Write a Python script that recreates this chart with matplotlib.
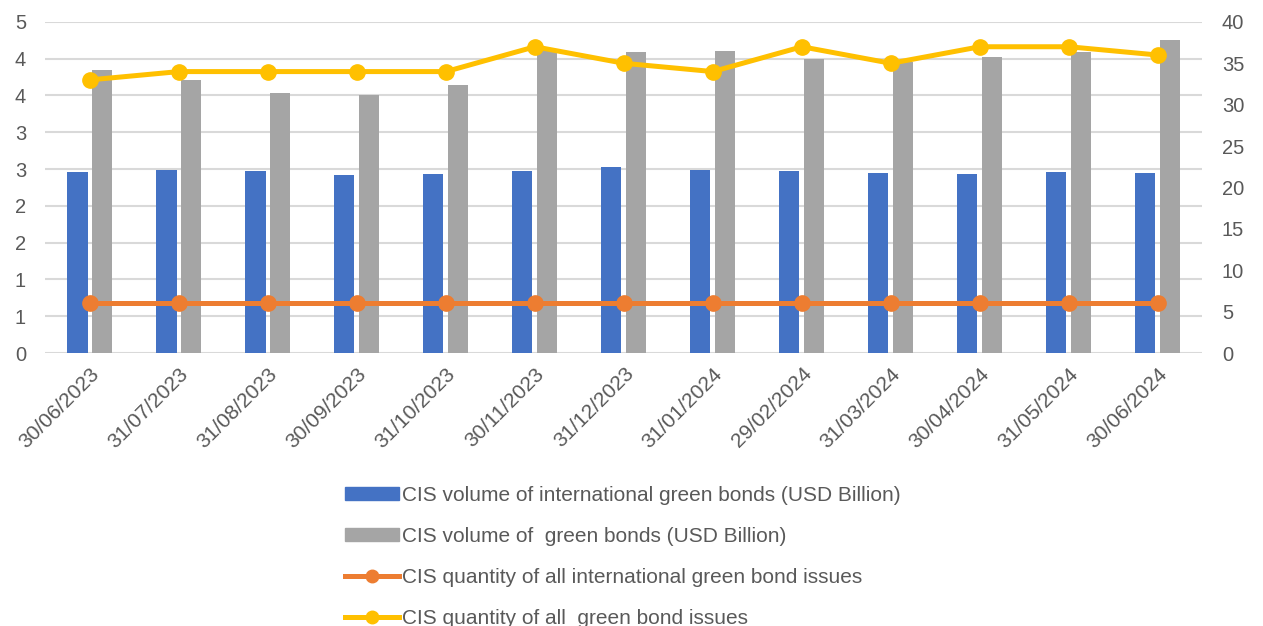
import numpy as np
import matplotlib
matplotlib.use("Agg")
import matplotlib.pyplot as plt
from matplotlib.lines import Line2D
from matplotlib.patches import Patch

plt.rcParams['font.family'] = ['Liberation Sans', 'DejaVu Sans']

# data
dates = ["30/06/2023", "31/07/2023", "31/08/2023", "30/09/2023", "31/10/2023",
         "30/11/2023", "31/12/2023", "31/01/2024", "29/02/2024", "31/03/2024",
         "30/04/2024", "31/05/2024", "30/06/2024"]
intl_volume = [2.46, 2.49, 2.47, 2.42, 2.43, 2.48, 2.53, 2.49, 2.47, 2.45, 2.43, 2.46, 2.45]
all_volume = [3.84, 3.71, 3.53, 3.50, 3.64, 4.12, 4.09, 4.11, 4.00, 3.96, 4.02, 4.09, 4.26]
intl_count = [6, 6, 6, 6, 6, 6, 6, 6, 6, 6, 6, 6, 6]
all_count = [33, 34, 34, 34, 34, 37, 35, 34, 37, 35, 37, 37, 36]

left_ticks = [0, 0.5, 1, 1.5, 2, 2.5, 3, 3.5, 4, 4.5]
left_tick_labels = ["0", "1", "1", "2", "2", "3", "3", "4", "4", "5"]
right_ticks = [0, 5, 10, 15, 20, 25, 30, 35, 40]

labels = ["CIS volume of international green bonds (USD Billion)",
          "CIS volume of  green bonds (USD Billion)",
          "CIS quantity of all international green bond issues",
          "CIS quantity of all  green bond issues"]

blue = "#4472C4"
grey = "#A5A5A5"
orange = "#ED7D31"
yellow = "#FFC000"
text_col = "#595959"

fig = plt.figure(figsize=(12.63, 6.26), dpi=100)
ax = fig.add_axes([0.036, 0.436, 0.916, 0.529])
ax2 = ax.twinx()

x = np.arange(len(dates))
w = 0.225
ax.bar(x - 0.14, intl_volume, width=w, color=blue, zorder=2)
ax.bar(x + 0.14, all_volume, width=w, color=grey, zorder=2)

ax2.plot(x, intl_count, color=orange, lw=3.6, marker="o", ms=11, zorder=3)
ax2.plot(x, all_count, color=yellow, lw=3.6, marker="o", ms=11, zorder=3)

ax.set_xlim(-0.5, len(dates) - 0.5)
ax.set_ylim(0, 4.5)
ax2.set_ylim(0, 40)
ax.set_yticks(left_ticks)
ax.set_yticklabels(left_tick_labels)
ax2.set_yticks(right_ticks)
ax.set_xticks(x)
ax.set_xticklabels(dates, rotation=45, ha="right", rotation_mode="anchor")

ax.grid(axis="y", color="#D9D9D9", lw=1.5, zorder=0)
ax.set_axisbelow(True)
for a in (ax, ax2):
    for s in a.spines.values():
        s.set_visible(False)
ax.tick_params(axis="y", length=0, pad=14, labelsize=14.5, labelcolor=text_col)
ax2.tick_params(axis="y", length=0, pad=14, labelsize=14.5, labelcolor=text_col)
ax.tick_params(axis="x", length=0, pad=8, labelsize=15, labelcolor=text_col)

handles = [Patch(color=blue), Patch(color=grey),
           Line2D([], [], color=orange, lw=3.6, marker="o", ms=9),
           Line2D([], [], color=yellow, lw=3.6, marker="o", ms=9)]
fig.legend(handles, labels, loc="upper left", bbox_to_anchor=(345 / 1263, 1 - 486 / 626),
           frameon=False, fontsize=15, labelcolor=text_col, handlelength=2.6,
           handleheight=0.6, handletextpad=0.15, labelspacing=1.05, borderaxespad=0,
           borderpad=0)

fig.savefig("out.png", dpi=100)
